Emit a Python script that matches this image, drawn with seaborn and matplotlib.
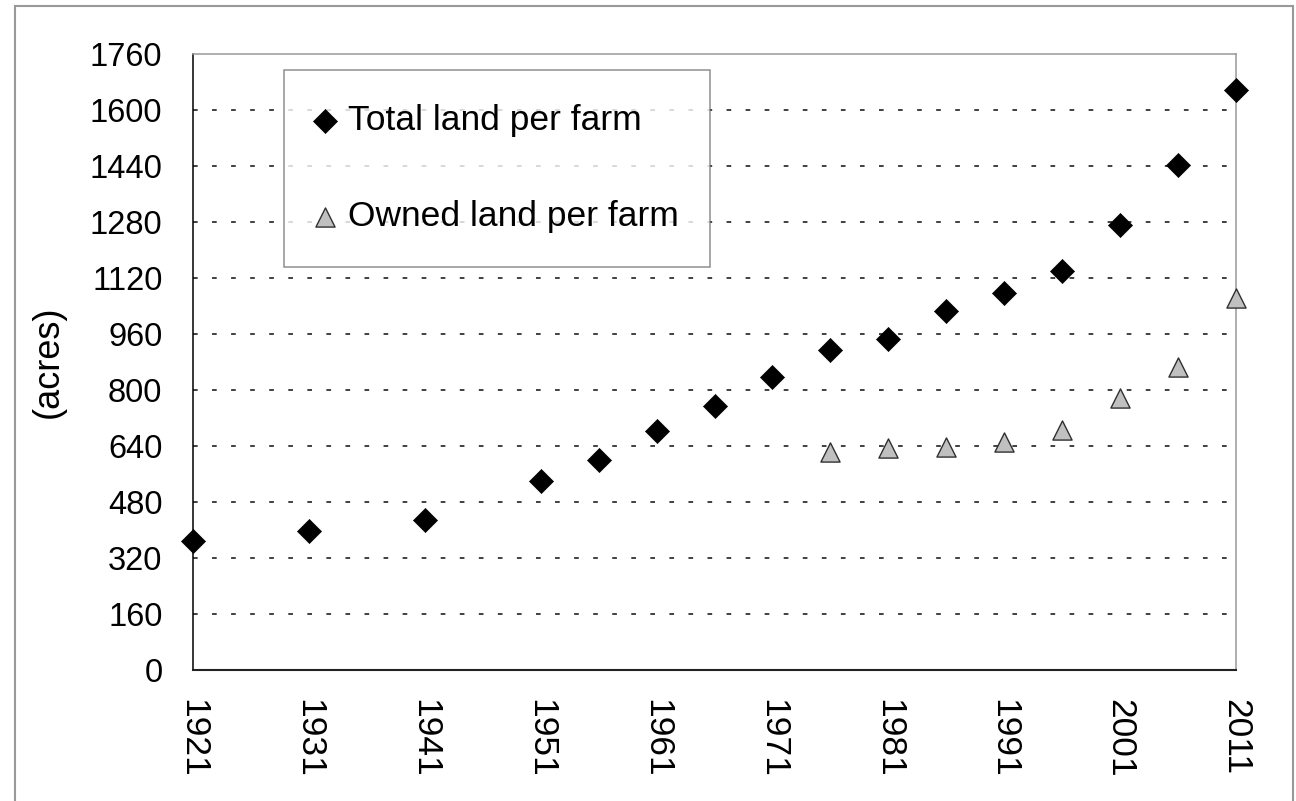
# Tamanho médio das fazendas (acres) - total x próprio
import numpy as np
import pandas as pd
import matplotlib
matplotlib.use('Agg')
import matplotlib.pyplot as plt
from matplotlib.patches import Rectangle
import seaborn as sns

# Dados
anos_total = [1921, 1931, 1941, 1951, 1956, 1961, 1966, 1971, 1976, 1981, 1986, 1991, 1996, 2001, 2006, 2011]
terra_total = [368, 397, 429, 540, 600, 683, 754, 837, 914, 946, 1026, 1077, 1140, 1271, 1443, 1657]

anos_propria = [1976, 1981, 1986, 1991, 1996, 2001, 2006, 2011]
terra_propria = [622, 634, 636, 651, 686, 777, 866, 1062]

rotulos_x = [1921, 1931, 1941, 1951, 1961, 1971, 1981, 1991, 2001, 2011]
rotulos_y = list(range(0, 1761, 160))

df_total = pd.DataFrame({'Ano': anos_total, 'Acres': terra_total})
df_propria = pd.DataFrame({'Ano': anos_propria, 'Acres': terra_propria})

sns.set_style('white')
plt.rcParams['font.family'] = ['Liberation Sans', 'DejaVu Sans']
plt.rcParams['text.color'] = 'black'
plt.rcParams['axes.labelcolor'] = 'black'

fig, ax = plt.subplots(figsize=(12.96, 8.01), dpi=100)
fig.subplots_adjust(left=193/1296, right=1236/1296, top=1-54/801, bottom=1-670/801)

# Linhas de grade tracejadas
for v in rotulos_y[1:-1]:
    ax.axhline(v, color='0.25', lw=1.4, linestyle=(0, (2.4, 7.4)), zorder=1)

s_diam, s_tri = 150, 190
sns.scatterplot(data=df_total, x='Ano', y='Acres', marker='D', s=s_diam, color='black',
                edgecolor='black', linewidth=0.5, clip_on=False, zorder=3,
                label='Total land per farm', ax=ax)
sns.scatterplot(data=df_propria, x='Ano', y='Acres', marker='^', s=s_tri, color='#c0c0c0',
                edgecolor='#303030', linewidth=1.0, clip_on=False, zorder=3,
                label='Owned land per farm', ax=ax)

ax.set_xlim(1921, 2011)
ax.set_ylim(0, 1760)
ax.set_xticks(rotulos_x)
ax.set_yticks(rotulos_y)
ax.set_xticklabels([str(a) for a in rotulos_x], rotation=270, fontsize=25.5)
ax.set_yticklabels([str(v) for v in rotulos_y], fontsize=23.5)
ax.tick_params(axis='both', direction='out', length=8, width=1.1, colors='black')
ax.tick_params(axis='y', pad=14)
ax.tick_params(axis='x', pad=13)
ax.set_xlabel('')
ax.set_ylabel('(acres)', fontsize=26, labelpad=17)

# Bordas
ax.spines['left'].set_color('black')
ax.spines['left'].set_linewidth(1.1)
ax.spines['bottom'].set_color('#222222')
ax.spines['bottom'].set_linewidth(1.5)
for lado in ['top', 'right']:
    ax.spines[lado].set_color('0.6')
    ax.spines[lado].set_linewidth(1.1)

# Legenda
leg = ax.legend(loc='upper left', bbox_to_anchor=(0.087, 0.974 - 0.328, 0.409, 0.328),
                mode='expand', fontsize=25.5, frameon=True, fancybox=False, shadow=False,
                borderpad=0.97, labelspacing=1.77, handletextpad=0.45, handlelength=0.4,
                borderaxespad=0)
leg.get_frame().set_edgecolor('0.45')
leg.get_frame().set_linewidth(1.1)
for h, tam in zip(leg.legend_handles, [s_diam, s_tri]):
    h.set_sizes([tam])
for t in leg.get_texts():
    t.set_color('black')

# Moldura externa
fig.add_artist(Rectangle((15/1296, -0.05), (1293-15)/1296, 1-6/801+0.05,
                         transform=fig.transFigure, fill=False, edgecolor='0.6', lw=1.5))

plt.savefig('out.png', dpi=100)
